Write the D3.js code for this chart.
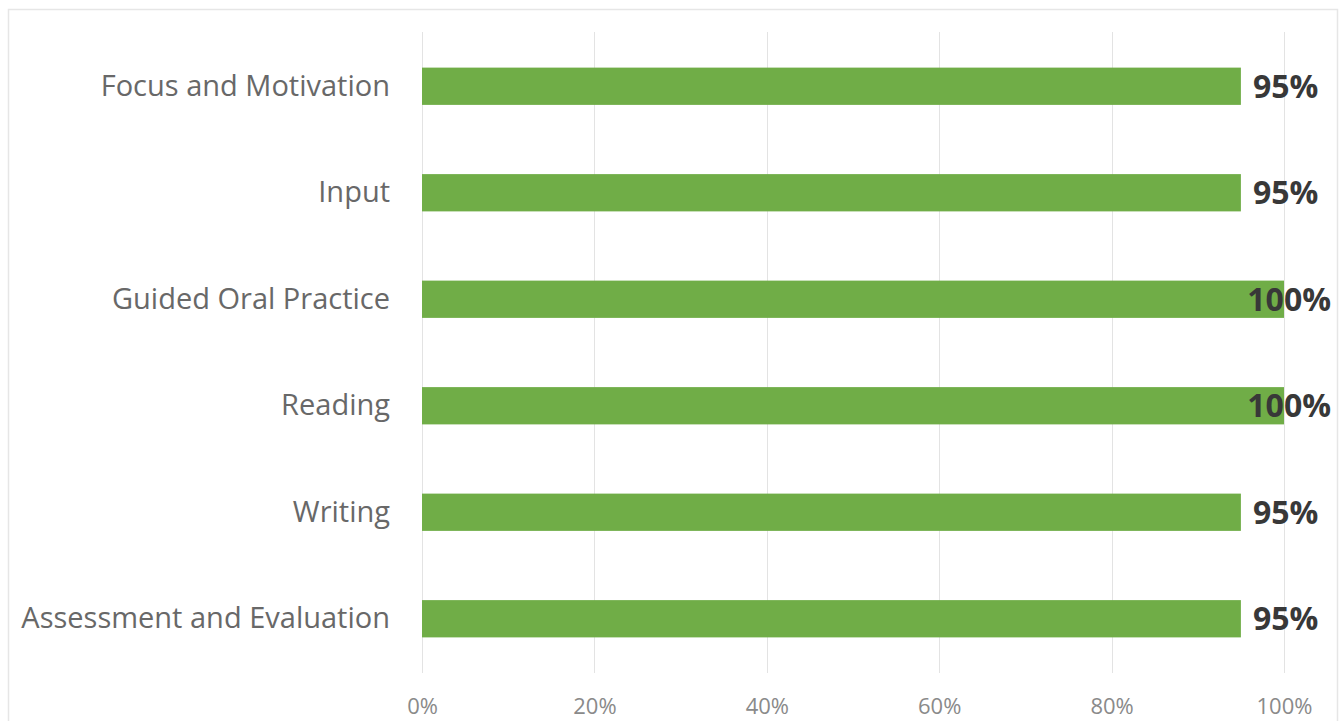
<!DOCTYPE html>
<html>
<head>
<meta charset="utf-8">
<script src="https://cdn.jsdelivr.net/npm/d3@7"></script>
<style>
  html, body { margin: 0; padding: 0; background: #fff; }
  svg { display: block; }
</style>
</head>
<body>
<script>
const categories = ["Focus and Motivation", "Input", "Guided Oral Practice", "Reading", "Writing", "Assessment and Evaluation"];
const values = [0.95, 0.95, 1.00, 1.00, 0.95, 0.95];
const tickValues = [0, 0.2, 0.4, 0.6, 0.8, 1.0];
const tickLabels = ["0%", "20%", "40%", "60%", "80%", "100%"];
const valueLabels = ["95%", "95%", "100%", "100%", "95%", "95%"];

const W = 1340, H = 721;
const svg = d3.select("body").append("svg").attr("width", W).attr("height", H);

// frame
svg.append("path")
  .attr("d", `M8.5,${H} L8.5,9.5 L1337.5,9.5 L1337.5,${H}`)
  .attr("fill", "none").attr("stroke", "#e6e6e6").attr("stroke-width", 1.5);

const x = d3.scaleLinear().domain([0, 1]).range([422, 1284]);
const y = d3.scaleBand().domain(categories).range([33, 672]).paddingInner(0.65).paddingOuter(0.325);

// gridlines
svg.append("g").selectAll("line").data(tickValues).join("line")
  .attr("x1", d => Math.round(x(d)) + 0.5).attr("x2", d => Math.round(x(d)) + 0.5)
  .attr("y1", 32).attr("y2", 673)
  .attr("stroke", "#e3e3e3").attr("stroke-width", 1);

// x axis labels
const xAxis = d3.axisBottom(x).tickValues(tickValues).tickSize(0).tickFormat((d, i) => tickLabels[i]);
const gx = svg.append("g").attr("transform", "translate(0,706)").call(xAxis);
gx.select(".domain").remove();
gx.selectAll("text").attr("font-family", "'Open Sans', sans-serif").attr("font-size", 22)
  .attr("fill", "#8a8a8a").attr("y", 0).attr("dy", "0.35em")
  .attr("transform", "scale(1,1)");

// y axis labels
const yAxis = d3.axisLeft(y).tickSize(0).tickPadding(0);
const gy = svg.append("g").attr("transform", "translate(390,0)").call(yAxis);
gy.select(".domain").remove();
gy.selectAll("text").attr("font-family", "'Open Sans', sans-serif").attr("font-size", 29).attr("fill", "#686868").attr("dy", "0.33em");

// bars
svg.append("g").selectAll("rect").data(categories).join("rect")
  .attr("x", x(0)).attr("y", d => y(d))
  .attr("width", (d, i) => x(values[i]) - x(0))
  .attr("height", y.bandwidth())
  .attr("fill", "#70AD47");

// value labels
const labels = svg.append("g").selectAll("text").data(categories).join("text")
  .attr("y", d => y(d) + y.bandwidth() / 2)
  .attr("dy", "0.36em")
  .attr("font-family", "'Open Sans', sans-serif").attr("font-size", 32).attr("font-weight", "bold")
  .attr("fill", "#383838")
  .text((d, i) => valueLabels[i]);
labels.each(function(d, i) {
  const w = this.getComputedTextLength();
  const xx = Math.min(x(values[i]) + 12, 1331 - w);
  d3.select(this).attr("x", xx);
});
</script>
</body>
</html>
